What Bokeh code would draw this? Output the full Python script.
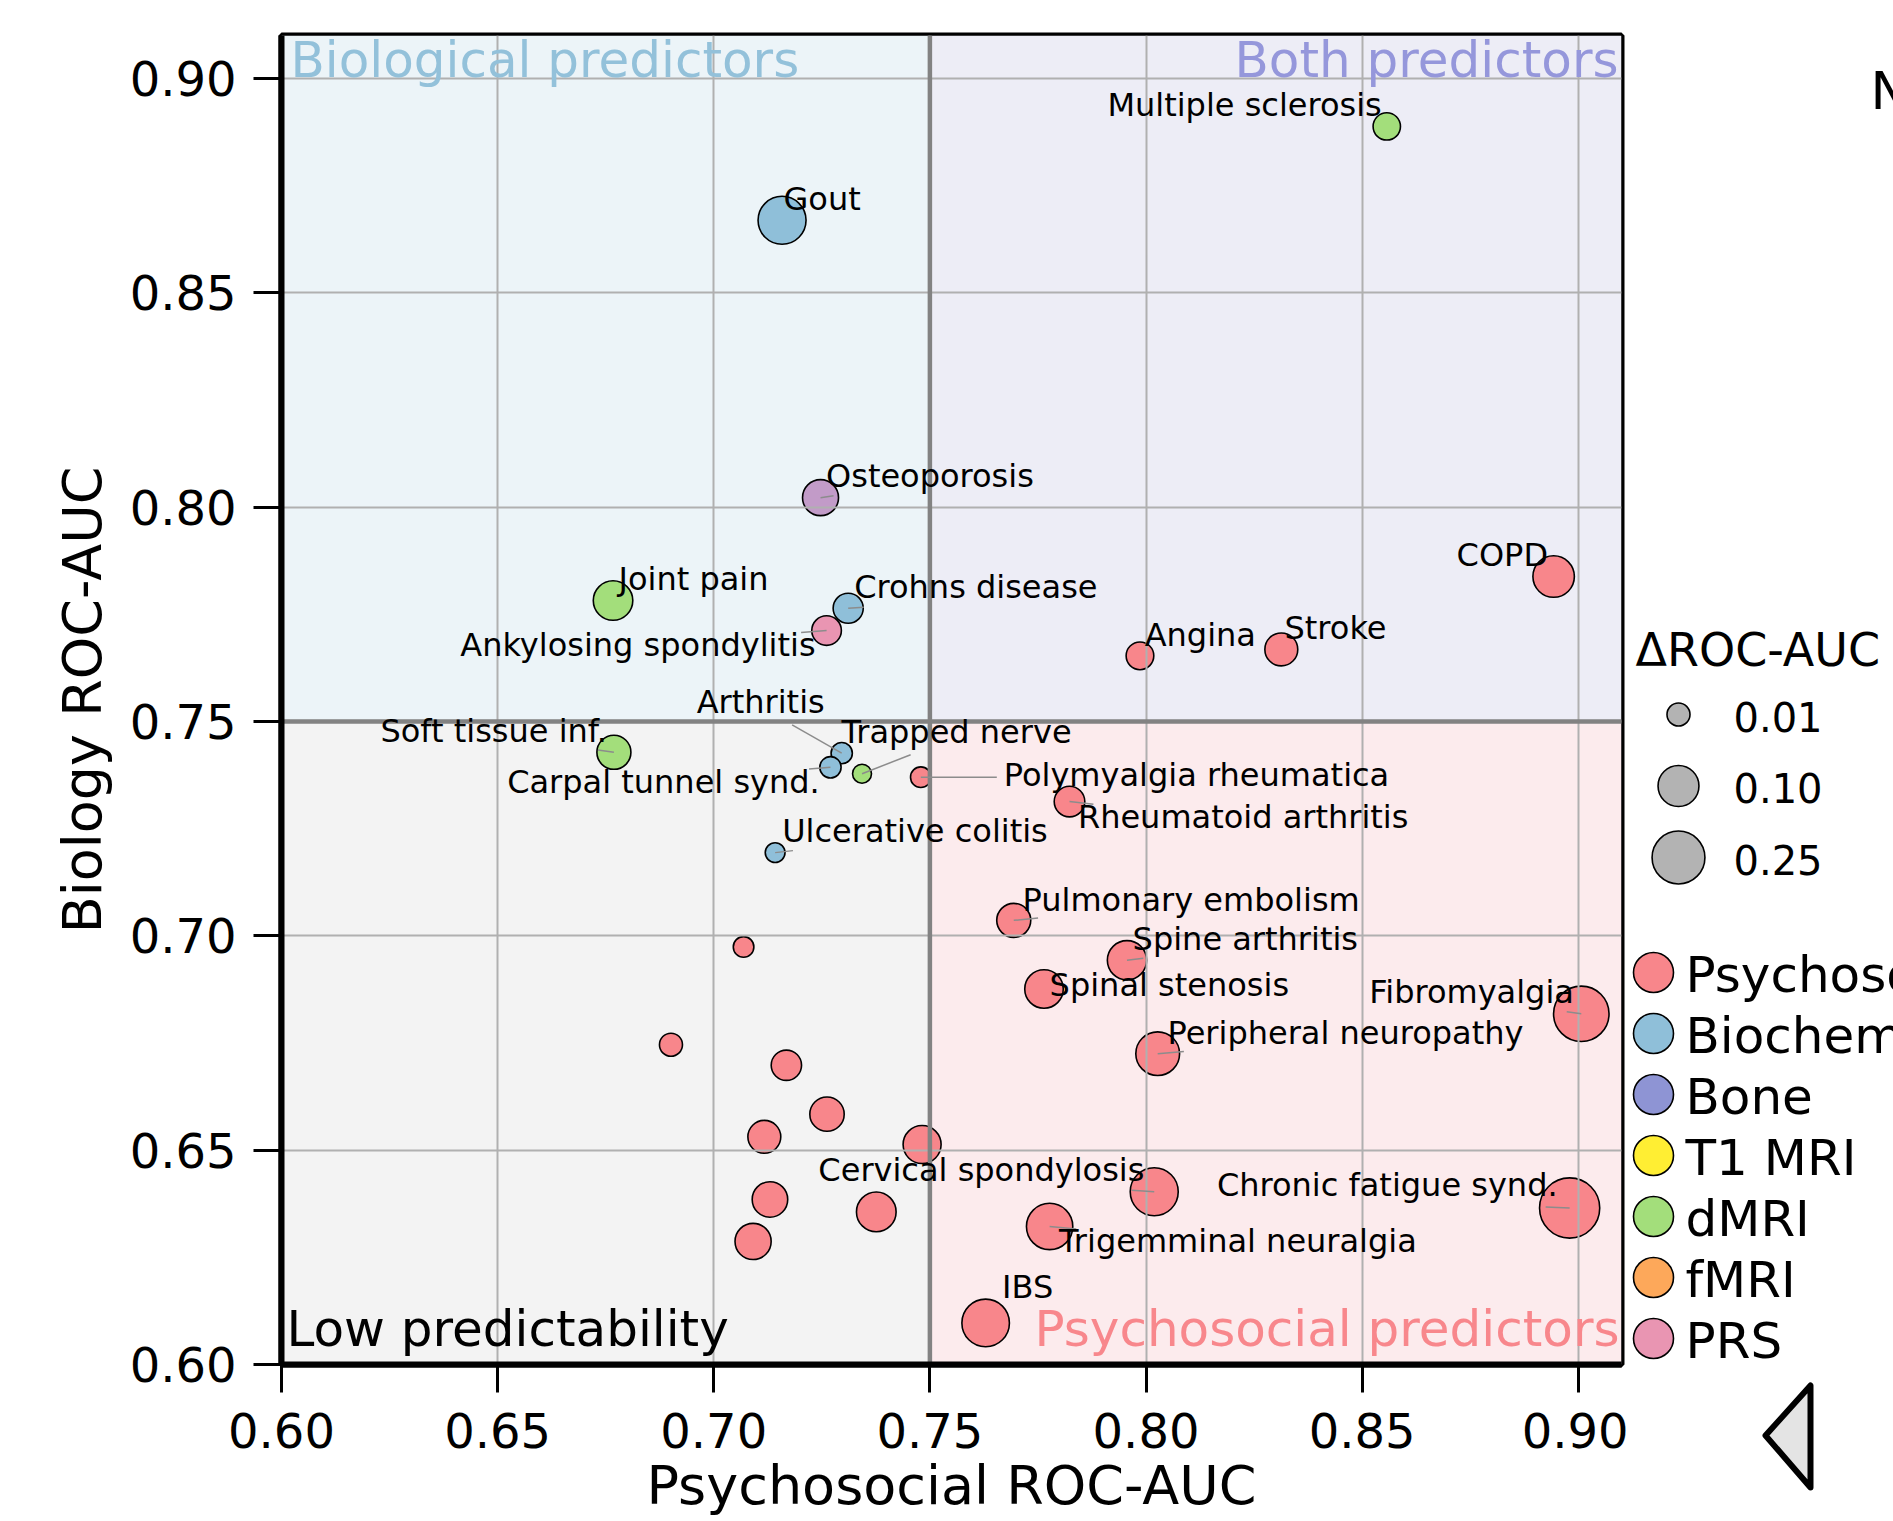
import math
from bokeh.plotting import figure
from bokeh.layouts import row
from bokeh.models import Range1d, FixedTicker, PrintfTickFormatter, Span, ColumnDataSource
from bokeh.core.properties import value
from bokeh.embed import file_html
from bokeh.resources import INLINE

# ---------------- data ----------------
names = [
    "Multiple sclerosis", "Gout", "Osteoporosis", "Joint pain", "Crohns disease",
    "Ankylosing spondylitis", "Soft tissue inf.", "Arthritis", "Carpal tunnel synd.",
    "Trapped nerve", "Polymyalgia rheumatica", "Ulcerative colitis", "COPD", "Angina",
    "Stroke", "Rheumatoid arthritis", "Pulmonary embolism", "Spine arthritis",
    "Spinal stenosis", "Fibromyalgia", "Peripheral neuropathy", "Cervical spondylosis",
    "Chronic fatigue synd.", "Trigemminal neuralgia", "IBS",
    "", "", "", "", "", "", "", "", "",
]
psychosocial_auc = [
    0.8557, 0.7158, 0.7247, 0.6767, 0.7311, 0.7261, 0.6769, 0.7296, 0.7270,
    0.7343, 0.7479, 0.7142, 0.8943, 0.7986, 0.8313, 0.7823, 0.7694, 0.7956,
    0.7764, 0.9007, 0.8027, 0.8019, 0.8980, 0.7777, 0.7629,
    0.7069, 0.6901, 0.7168, 0.7262, 0.7117, 0.7482, 0.7130, 0.7376, 0.7091,
]
biology_auc = [
    0.8888, 0.8669, 0.8022, 0.7782, 0.7764, 0.7712, 0.7428, 0.7426, 0.7393,
    0.7378, 0.7370, 0.7194, 0.7838, 0.7653, 0.7668, 0.7313, 0.7036, 0.6943,
    0.6876, 0.6818, 0.6725, 0.6403, 0.6365, 0.6322, 0.6097,
    0.6974, 0.6746, 0.6698, 0.6584, 0.6531, 0.6513, 0.6385, 0.6356, 0.6287,
]
delta_auc = [
    0.021, 0.178, 0.062, 0.088, 0.031, 0.029, 0.050, 0.007, 0.007,
    0.004, 0.006, 0.005, 0.105, 0.022, 0.044, 0.033, 0.050, 0.086,
    0.080, 0.296, 0.128, 0.178, 0.392, 0.157, 0.172,
    0.006, 0.010, 0.032, 0.052, 0.044, 0.076, 0.059, 0.089, 0.063,
]
best_modality = [
    "dMRI", "Biochemistry", "Bone+PRS", "dMRI", "Biochemistry", "PRS", "dMRI",
    "Biochemistry", "Biochemistry", "dMRI", "Psychosocial", "Biochemistry",
] + ["Psychosocial"] * 22

modalities = ["Psychosocial", "Biochemistry", "Bone", "T1 MRI", "dMRI", "fMRI", "PRS"]
modality_colors = ["#f8868b", "#8fbfd9", "#8e94d4", "#ffee33", "#a3de7b", "#fda85a", "#e995b2"]
palette = dict(zip(modalities, modality_colors))
palette["Bone+PRS"] = "#c29bc8"

size_legend_values = [0.01, 0.10, 0.25]
ticks = [0.60, 0.65, 0.70, 0.75, 0.80, 0.85, 0.90]
threshold = 0.75
quadrant_names = ["Biological predictors", "Both predictors", "Low predictability", "Psychosocial predictors"]

# ---------------- styling / layout ----------------
FONT = "DejaVu Sans"
MID = 0.346  # em offset from alphabetic baseline to the 'middle' baseline
X0, X1, Y0, Y1 = 0.60, 0.91, 0.60, 0.91
FRAME_W, FRAME_H = 1340, 1330
fx = FRAME_W / (X1 - X0)
fy = FRAME_H / (Y1 - Y0)
LABEL_FS = 32
QUAD_FS = 50


def marker_diameter(v):
    return 7.5 + 72.0 * v ** (1.0 / 3.0)


# label placement: (align, dx px, baseline px above point, leader end offset px or None)
label_layout = {
    "Multiple sclerosis": ("right", -5, 10, None),
    "Gout": ("left", 1.5, 10, None),
    "Osteoporosis": ("left", 5.5, 10.5, (13, 2)),
    "Joint pain": ("left", 5.5, 10, None),
    "Crohns disease": ("left", 6, 10.5, (15.5, 1)),
    "Ankylosing spondylitis": ("right", -11, -26, (-25.5, -2)),
    "Soft tissue inf.": ("right", -7, 10.5, (-16, 2.3)),
    "Arthritis": ("right", -17, 40, (-49.6, 28.3)),
    "Carpal tunnel synd.": ("right", -10.7, -26, (-21.4, -1.7)),
    "Trapped nerve": ("left", -20.6, 30.7, (48.6, 19)),
    "Polymyalgia rheumatica": ("left", 83, -9.4, (76, 0)),
    "Ulcerative colitis": ("left", 7, 11, (17.8, 2)),
    "COPD": ("right", -5.6, 10.7, None),
    "Angina": ("left", 4.7, 10, None),
    "Stroke": ("left", 3.2, 10.3, None),
    "Rheumatoid arthritis": ("left", 8.4, -26.6, (23.9, -2.6)),
    "Pulmonary embolism": ("left", 8.8, 9.2, (24.3, 2.4)),
    "Spine arthritis": ("left", 5.6, 10.3, (16.3, 2)),
    "Spinal stenosis": ("left", 5.6, -7.4, None),
    "Fibromyalgia": ("right", -7.4, 10.3, (-14.6, 2)),
    "Peripheral neuropathy": ("left", 9.8, 10, (26.2, 2.3)),
    "Cervical spondylosis": ("right", -9.8, 10.6, (-22.5, 1.6)),
    "Chronic fatigue synd.": ("right", -12, 11.6, (-24, 1)),
    "Trigemminal neuralgia": ("left", 9.4, -25.6, (26.7, -2.6)),
    "IBS": ("left", 16.4, 25, None),
}

# ---------------- main figure ----------------
p = figure(width=1628, height=1519, x_range=Range1d(X0, X1), y_range=Range1d(Y0, Y1),
           output_backend="svg", toolbar_location=None,
           min_border_left=281, min_border_right=7, min_border_top=35, min_border_bottom=154)
p.frame_align = False
p.background_fill_color = "white"
p.border_fill_color = "white"
p.outline_line_color = "black"
p.outline_line_width = 6

# quadrant backgrounds
p.quad(left=[X0, threshold, X0, threshold], right=[threshold, X1, threshold, X1],
       bottom=[threshold, threshold, Y0, Y0], top=[Y1, Y1, threshold, threshold],
       fill_color=["#ecf4f8", "#ededf6", "#f3f3f3", "#fcebed"], line_color=None, level="image")

src = ColumnDataSource(dict(
    x=psychosocial_auc, y=biology_auc,
    d=[marker_diameter(v) for v in delta_auc],
    color=[palette[m] for m in best_modality],
))
p.scatter("x", "y", size="d", fill_color="color", line_color="black", line_width=1.6,
          source=src, level="image")

# grid & axes
for ax in (p.xaxis, p.yaxis):
    ax.ticker = FixedTicker(ticks=ticks)
    ax.formatter = PrintfTickFormatter(format="%.2f")
    ax.axis_line_width = 6
    ax.axis_line_color = "black"
    ax.major_tick_line_width = 3
    ax.major_tick_out = 28
    ax.major_tick_in = 0
    ax.minor_tick_out = 0
    ax.minor_tick_in = 0
    ax.major_label_text_font = FONT
    ax.major_label_text_font_size = "48px"
    ax.major_label_text_color = "black"
    ax.axis_label_text_font = FONT
    ax.axis_label_text_font_size = "54px"
    ax.axis_label_text_font_style = "normal"
    ax.axis_label_text_color = "black"
p.xaxis.major_label_standoff = 20
p.yaxis.major_label_standoff = 17
p.xaxis.axis_label = "Psychosocial ROC-AUC"
p.yaxis.axis_label = "Biology ROC-AUC"
p.xaxis.axis_label_standoff = 3
p.yaxis.axis_label_standoff = 13

for g in (p.xgrid, p.ygrid):
    g.ticker = FixedTicker(ticks=ticks)
    g.grid_line_color = "#b0b0b0"
    g.grid_line_width = 2

p.add_layout(Span(location=threshold, dimension="height", line_color="#828282", line_width=4.5, level="underlay"))
p.add_layout(Span(location=threshold, dimension="width", line_color="#828282", line_width=4.5, level="underlay"))

# labels + leaders
seg = dict(x0=[], y0=[], x1=[], y1=[])
lab = {"left": dict(x=[], y=[], t=[]), "right": dict(x=[], y=[], t=[])}
for n, xv, yv in zip(names, psychosocial_auc, biology_auc):
    if not n:
        continue
    align, dx, dy, lead = label_layout[n]
    lab[align]["x"].append(xv + dx / fx)
    lab[align]["y"].append(yv + (dy + MID * LABEL_FS) / fy)
    lab[align]["t"].append(n)
    if lead is not None:
        seg["x0"].append(xv)
        seg["y0"].append(yv)
        seg["x1"].append(xv + lead[0] / fx)
        seg["y1"].append(yv + lead[1] / fy)
p.segment(x0="x0", y0="y0", x1="x1", y1="y1", source=ColumnDataSource(seg),
          line_color="#8c8c8c", line_width=1.5)
for align in ("left", "right"):
    p.text(x="x", y="y", text="t", source=ColumnDataSource(lab[align]),
           text_align=align, text_baseline="middle", text_font=value(FONT),
           text_font_size="%dpx" % LABEL_FS, text_color="black")

# quadrant titles
q_x = [X0 + 9 / fx, X1 - 3 / fx, X0 + 5 / fx, X1 - 2 / fx]
q_base = [0.90 + 1.5 / fy, 0.90 + 1.5 / fy, Y0 + 18 / fy, Y0 + 18 / fy]
q_align = ["left", "right", "left", "right"]
q_color = ["#93c1da", "#9597db", "#000000", "#f8878c"]
for t, xx, yy, al, c in zip(quadrant_names, q_x, q_base, q_align, q_color):
    p.text(x=[xx], y=[yy + MID * QUAD_FS / fy], text=[t], text_align=al, text_baseline="middle",
           text_font=value(FONT), text_font_size="%dpx" % QUAD_FS, text_color=c)

# ---------------- legend panel (page-pixel coordinates) ----------------
q = figure(width=265, height=1519, x_range=Range1d(1628, 1893), y_range=Range1d(1519, 0),
           x_axis_type=None, y_axis_type=None, min_border=0, output_backend="svg",
           toolbar_location=None)
q.frame_align = False
q.outline_line_color = None
q.background_fill_color = "white"
q.border_fill_color = "white"

q.text(x=[1635], y=[665 - MID * 46], text=["ΔROC-AUC"], text_align="left", text_baseline="middle",
       text_font=value(FONT), text_font_size="46px", text_color="black")
size_y = [714 + 71.5 * i for i in range(len(size_legend_values))]
q.scatter(x=[1678] * len(size_legend_values), y=size_y,
          size=[marker_diameter(v) for v in size_legend_values],
          fill_color="#b3b3b3", line_color="black", line_width=1.6)
q.text(x=[1733] * len(size_legend_values), y=[yy + 2 for yy in size_y],
       text=["%.2f" % v for v in size_legend_values], text_align="left", text_baseline="middle",
       text_font=value(FONT), text_font_size="40px", text_color="black")

cat_y = [972 + 61 * i for i in range(len(modalities))]
q.scatter(x=[1653] * len(modalities), y=cat_y, size=40, fill_color=modality_colors,
          line_color="black", line_width=1.6)
q.text(x=[1685] * len(modalities), y=[yy + 2 for yy in cat_y], text=modalities,
       text_align="left", text_baseline="middle", text_font=value(FONT),
       text_font_size="50px", text_color="black")

q.text(x=[1870], y=[108 - MID * 52], text=["N"], text_align="left", text_baseline="middle",
       text_font=value(FONT), text_font_size="52px", text_color="black")
q.patch(x=[1765, 1810, 1810], y=[1435, 1385, 1487], fill_color="#e4e4e4",
        line_color="black", line_width=6, line_join="round")

layout = row(p, q)
open("out.html", "w").write(file_html(layout, INLINE))
